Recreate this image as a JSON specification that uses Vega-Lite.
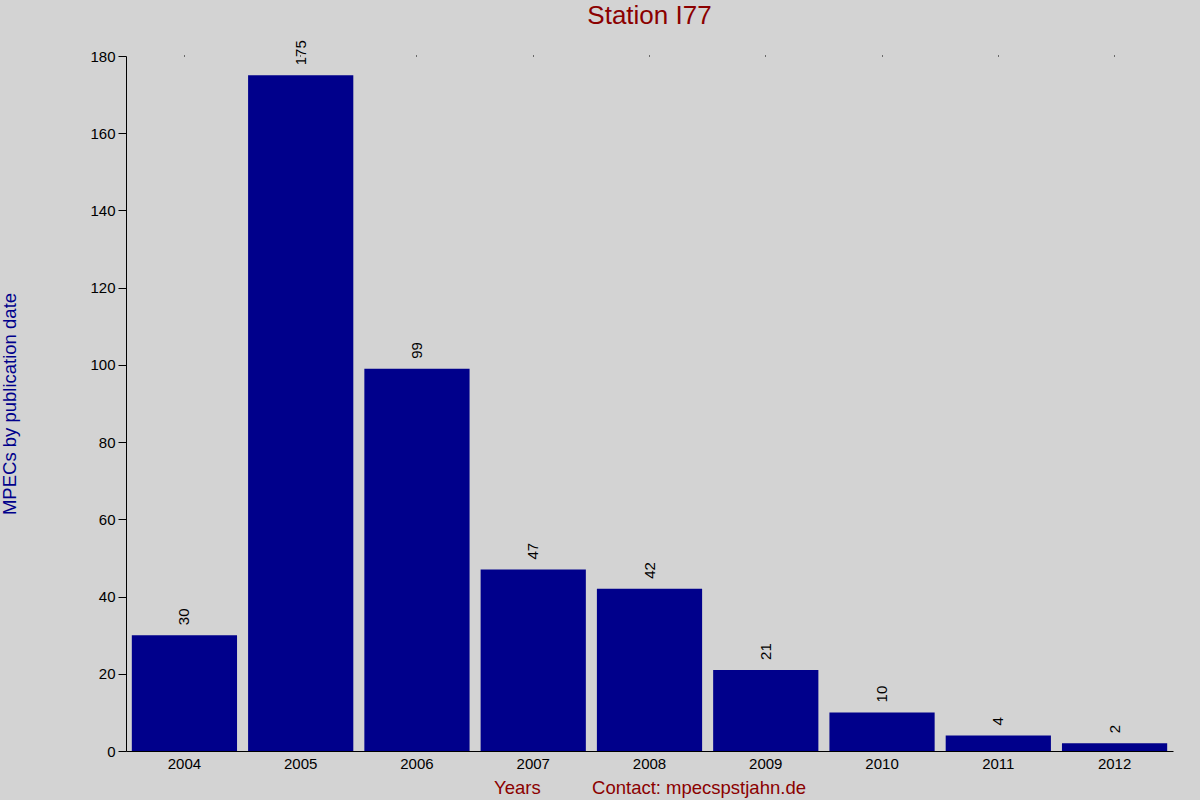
{
  "$schema": "https://vega.github.io/schema/vega-lite/v6.json",
  "width": 1047,
  "height": 695,
  "autosize": "none",
  "padding": {"left": 126, "top": 56, "right": 27, "bottom": 49},
  "background": "#d3d3d3",
  "config": {
    "view": {"stroke": null},
    "font": "Liberation Sans",
    "axis": {"grid": false, "domainColor": "black", "tickColor": "black", "labelColor": "black", "labelFont": "Liberation Sans", "titleFont": "Liberation Sans"}
  },
  "title": {
    "text": "Station I77",
    "color": "#8b0000",
    "fontSize": 26,
    "fontWeight": "normal",
    "font": "Liberation Sans",
    "offset": 11,
    "anchor": "middle"
  },
  "data": {
    "values": [
      {"year": "2004", "mpecs": 30},
      {"year": "2005", "mpecs": 175},
      {"year": "2006", "mpecs": 99},
      {"year": "2007", "mpecs": 47},
      {"year": "2008", "mpecs": 42},
      {"year": "2009", "mpecs": 21},
      {"year": "2010", "mpecs": 10},
      {"year": "2011", "mpecs": 4},
      {"year": "2012", "mpecs": 2}
    ]
  },
  "layer": [
    {
      "mark": {"type": "bar", "color": "#00008b"},
      "encoding": {
        "x": {
          "field": "year",
          "type": "ordinal",
          "scale": {"paddingInner": 0.095, "paddingOuter": 0.05},
          "axis": {
            "orient": "bottom",
            "title": "Years\u00a0\u00a0\u00a0\u00a0\u00a0\u00a0\u00a0\u00a0\u00a0\u00a0Contact: mpecspstjahn.de",
            "titleColor": "#8b0000",
            "titleFontSize": 18.5,
            "titleFontWeight": "normal",
            "titlePadding": 7,
            "labelAngle": 0,
            "labelFontSize": 15,
            "labelPadding": 5,
            "ticks": false
          }
        },
        "y": {
          "field": "mpecs",
          "type": "quantitative",
          "scale": {"domain": [0, 180], "nice": false},
          "axis": {
            "title": "MPECs by publication date",
            "titleColor": "#00008b",
            "titleFontSize": 18.5,
            "titleFontWeight": "normal",
            "titlePadding": 70,
            "values": [0, 20, 40, 60, 80, 100, 120, 140, 160, 180],
            "tickSize": 8,
            "labelFontSize": 15,
            "labelPadding": 3
          }
        }
      }
    },
    {
      "mark": {"type": "text", "angle": 270, "align": "left", "baseline": "middle", "dx": 10, "fontSize": 15, "color": "black"},
      "encoding": {
        "x": {
          "field": "year",
          "type": "ordinal",
          "axis": {"orient": "top", "title": null, "labels": false, "domain": false, "tickSize": 1}
        },
        "y": {"field": "mpecs", "type": "quantitative"},
        "text": {"field": "mpecs"}
      }
    }
  ]
}
